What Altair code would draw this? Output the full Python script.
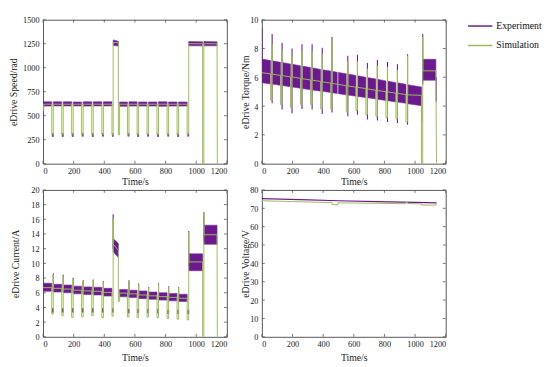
import altair as alt
import pandas as pd

PURPLE = "#6b1a8e"
GREEN = "#9bbb59"
FRAME = "#555555"
FONT = "Liberation Serif"

SERIES = ["Experiment", "Simulation"]

# ---- common timing of the drive cycle (s): steady segments ----
SEG_T0 = [0, 67, 132, 197, 262, 328, 394, 458, 500, 561, 624, 689, 754, 820, 885, 951, 1050]
SEG_T1 = [57, 122, 187, 252, 318, 384, 450, 492, 551, 614, 679, 744, 810, 875, 941, 1042, 1136]

X_TICKS = [0, 200, 400, 600, 800, 1000, 1200]

# ---- Speed (rad) ----
SPD_S0 = [620, 620, 620, 620, 620, 620, 620, 1262, 620, 620, 620, 620, 620, 620, 620, 1250, 1250]
SPD_S1 = [620, 620, 620, 620, 620, 620, 620, 1262, 620, 620, 620, 620, 620, 620, 620, 1250, 1250]
SPD_GLO = [300, 300, 300, 300, 300, 300, 300, 300, 300, 300, 300, 300, 300, 300, 300, 0]
SPD_GHI = [620, 620, 620, 620, 620, 620, 1262, 620, 620, 620, 620, 620, 620, 620, 1250, 1250]
SPD_HEAD_T = [0, 6]
SPD_HEAD_V = [545, 620]
SPD_TAIL_T = [1138]
SPD_TAIL_V = [0]
SPD_LO0 = [600, 602, 602, 602, 600, 602, 602, 1232, 598, 600, 600, 600, 598, 600, 600, 1228, 1228]
SPD_HI0 = [645, 645, 645, 643, 645, 645, 645, 1290, 643, 645, 643, 643, 645, 643, 643, 1272, 1272]
SPD_LO1 = [600, 602, 602, 602, 600, 602, 602, 1225, 598, 600, 600, 600, 598, 600, 600, 1228, 1228]
SPD_HI1 = [645, 645, 645, 643, 645, 645, 645, 1275, 643, 645, 643, 643, 645, 643, 643, 1270, 1270]
SPD_BAND_HEAD_T = [0, 6]
SPD_BAND_HEAD_LO = [500, 600]
SPD_BAND_HEAD_HI = [565, 645]
SPD_BLOB_LO = [280, 280, 280, 282, 280, 282, 280, None, 282, 280, 282, 280, 282, 280, 282, None]
SPD_BLOB_HI = [318, 318, 316, 318, 318, 316, 318, None, 316, 318, 316, 318, 316, 318, 318, None]
SPD_TICKS = [0, 250, 500, 750, 1000, 1250, 1500]

# ---- Torque (Nm) ----
TRQ_S0 = [6.32, 6.22, 6.12, 6.02, 5.90, 5.80, 5.68, 5.57, 5.50, 5.40, 5.30, 5.19, 5.08, 4.98, 4.88, 4.78, 6.45]
TRQ_S1 = [6.24, 6.13, 6.03, 5.93, 5.82, 5.71, 5.60, 5.52, 5.42, 5.32, 5.22, 5.10, 5.00, 4.90, 4.80, 4.75, 6.45]
TRQ_GLO = [4.4, 4.1, 3.9, 4.1, 4.1, 3.8, 3.8, 5.52, 3.6, 3.7, 3.4, 3.3, 3.2, 3.1, 2.9, 0.0]
TRQ_GHI = [8.3, 7.9, 7.5, 7.8, 7.8, 7.6, 8.7, 5.50, 7.1, 7.1, 6.6, 6.8, 6.7, 6.5, 7.5, 8.8]
TRQ_TAIL_T = [1140]
TRQ_TAIL_V = [0]
TRQ_LO0 = [5.63, 5.53, 5.43, 5.33, 5.22, 5.12, 5.03, 4.93, 4.86, 4.77, 4.67, 4.58, 4.48, 4.38, 4.28, 4.17, 5.80]
TRQ_HI0 = [7.27, 7.15, 7.03, 6.91, 6.78, 6.66, 6.53, 6.42, 6.34, 6.23, 6.11, 5.98, 5.86, 5.74, 5.62, 5.49, 7.25]
TRQ_LO1 = [5.54, 5.44, 5.34, 5.24, 5.14, 5.04, 4.94, 4.87, 4.78, 4.69, 4.59, 4.50, 4.39, 4.29, 4.19, 4.03, 5.80]
TRQ_HI1 = [7.16, 7.04, 6.92, 6.80, 6.68, 6.55, 6.43, 6.35, 6.24, 6.13, 6.00, 5.88, 5.75, 5.63, 5.51, 5.33, 7.25]
TRQ_SPK_T = [1, 67, 132, 197, 262, 328, 394, 458, 561, 624, 689, 754, 820, 885, 951, 1044, 1050, 1138]
TRQ_SPK_LO = [7.0, 4.2, 3.77, 3.5, 3.8, 3.77, 3.45, 3.55, 3.3, 3.4, 3.07, 3.0, 2.9, 2.83, 2.7, 2.9, 5.5, 4.3]
TRQ_SPK_HI = [9.4, 9.0, 8.4, 8.0, 8.3, 8.3, 8.05, 8.8, 7.5, 7.57, 7.0, 7.2, 7.06, 6.9, 7.6, 4.7, 9.0, 6.0]
TRQ_TICKS = [0, 2, 4, 6, 8, 10]

# ---- Current (A) ----
CUR_S0 = [6.70, 6.60, 6.50, 6.35, 6.25, 6.20, 6.05, 12.6, 5.95, 5.85, 5.70, 5.58, 5.47, 5.37, 5.25, 10.2, 13.9]
CUR_S1 = [6.70, 6.60, 6.50, 6.35, 6.25, 6.20, 6.05, 11.8, 5.95, 5.85, 5.70, 5.58, 5.47, 5.37, 5.25, 10.2, 13.9]
CUR_GLO = [3.1, 2.9, 2.6, 2.7, 2.9, 2.6, 2.8, 4.8, 2.7, 2.6, 2.7, 2.6, 2.5, 2.4, 2.3, 0.0]
CUR_GHI = [8.5, 8.3, 7.9, 7.6, 7.7, 7.45, 16.2, 5.95, 7.6, 7.15, 6.7, 7.25, 6.8, 6.7, 14.3, 16.85]
CUR_TAIL_T = [1138]
CUR_TAIL_V = [0]
CUR_LO0 = [6.20, 6.10, 6.00, 5.85, 5.75, 5.70, 5.55, 11.6, 5.45, 5.35, 5.20, 5.10, 5.00, 4.90, 4.80, 9.0, 12.6]
CUR_HI0 = [7.30, 7.15, 7.05, 6.90, 6.80, 6.75, 6.60, 13.4, 6.45, 6.35, 6.25, 6.10, 6.00, 5.90, 5.80, 11.3, 15.2]
CUR_LO1 = [6.20, 6.10, 6.00, 5.85, 5.75, 5.70, 5.55, 10.8, 5.45, 5.35, 5.20, 5.10, 5.00, 4.90, 4.80, 9.0, 12.6]
CUR_HI1 = [7.30, 7.15, 7.05, 6.90, 6.80, 6.75, 6.60, 12.7, 6.45, 6.35, 6.25, 6.10, 6.00, 5.90, 5.80, 11.3, 15.2]
CUR_BLOB_LO = [3.3, 3.3, 3.3, 3.3, 3.3, 3.3, 3.3, None, 3.2, 3.2, 3.2, 3.2, 3.1, 3.1, 3.1, None]
CUR_BLOB_HI = [3.9, 3.9, 3.9, 3.9, 3.9, 3.9, 3.9, None, 3.8, 3.8, 3.8, 3.8, 3.7, 3.7, 3.7, None]
CUR_SPK_T = [67, 132, 197, 262, 328, 394, 458, 561, 624, 689, 754, 820, 885, 951, 1050]
CUR_SPK_LO = [6.2, 6.1, 6.0, 5.9, 5.8, 5.7, 12.0, 5.4, 5.3, 5.2, 5.1, 5.0, 4.9, 9.5, 13.0]
CUR_SPK_HI = [8.65, 8.44, 8.05, 7.7, 7.8, 7.57, 16.7, 7.7, 7.26, 6.8, 7.35, 6.9, 6.8, 14.4, 16.96]
CUR_TICKS = [0, 2, 4, 6, 8, 10, 12, 14, 16, 18, 20]

# ---- Voltage (V) ----
VOLT_EXP_T = [0, 250, 500, 750, 1000, 1140]
VOLT_EXP_V = [75.3, 74.7, 74.1, 73.6, 73.2, 73.0]
VOLT_SIM_T = [0, 458, 458, 496, 496, 940, 940, 951, 951, 1042, 1042, 1136, 1140]
VOLT_SIM_V = [74.1, 73.1, 72.0, 71.9, 73.0, 72.5, 73.5, 73.4, 72.6, 72.4, 71.8, 71.7, 72.9]
VOLT_TICKS = [0, 10, 20, 30, 40, 50, 60, 70, 80]

W = 189
H_TOP = 148
H_BOT = 151

LEGEND = alt.Legend(
    title=None, orient="none", legendX=436, legendY=-7, padding=0, symbolType="stroke",
    symbolSize=625, symbolStrokeWidth=1.5, labelFont=FONT, labelFontSize=10,
    labelColor="#111", rowPadding=1, labelOffset=3,
)
COLOR = alt.Color("series:N", scale=alt.Scale(domain=SERIES, range=[PURPLE, GREEN]), legend=LEGEND)
XS = alt.Scale(domain=[0, 1200], nice=False, zero=False)


def sim_frame(s0, s1, glo, ghi, head_t=None, head_v=None, tail_t=None, tail_v=None):
    ts, vs = [], []
    n = len(SEG_T0)
    for i in range(n):
        if i == 0:
            if head_t:
                ts += head_t
                vs += head_v
            else:
                ts.append(SEG_T0[0]); vs.append(s0[0])
        ts.append(SEG_T1[i]); vs.append(s1[i])
        if i < n - 1:
            ts += [SEG_T1[i], SEG_T0[i + 1], SEG_T0[i + 1], SEG_T0[i + 1] + 1]
            vs += [glo[i], glo[i], ghi[i], s0[i + 1]]
    if tail_t:
        ts += tail_t
        vs += tail_v
    return pd.DataFrame({"t": ts, "v": vs, "series": "Simulation", "o": list(range(len(ts)))})


def band_frame(lo0, hi0, lo1, hi1, head_t=None, head_lo=None, head_hi=None):
    rows = []
    if head_t:
        for t, a, b in zip(head_t, head_lo, head_hi):
            rows.append(dict(seg=-1, t=t, lo=a, hi=b))
    for i in range(len(SEG_T0)):
        rows.append(dict(seg=i, t=SEG_T0[i], lo=lo0[i], hi=hi0[i]))
        rows.append(dict(seg=i, t=SEG_T1[i], lo=lo1[i], hi=hi1[i]))
    return pd.DataFrame(rows)


def blob_frame(lo, hi):
    rows = []
    for i in range(len(SEG_T0) - 1):
        if lo[i] is None:
            continue
        rows.append(dict(t0=SEG_T1[i] + 1, t1=SEG_T0[i + 1] + 3, lo=lo[i], hi=hi[i]))
    return pd.DataFrame(rows)


def panel(ytitle, ydom, yticks, height, title_x, x_title_pad, layers_fn):
    xa = alt.Axis(values=X_TICKS, title="Time/s", titlePadding=x_title_pad, format="d",
                  labelFont=FONT, titleFont=FONT)
    ya = alt.Axis(values=yticks, title=ytitle, titleX=title_x, titleBaseline="middle", format="d",
                  labelFont=FONT, titleFont=FONT)

    def xenc(field):
        return alt.X(f"{field}:Q", scale=XS, axis=xa)

    def yenc(field):
        return alt.Y(f"{field}:Q", scale=alt.Scale(domain=ydom, nice=False, zero=False), axis=ya)

    layers = layers_fn(xenc, yenc)
    tick_x = pd.DataFrame({"t": X_TICKS})
    tick_y = pd.DataFrame({"v": yticks})
    tk = dict(color=FRAME, strokeWidth=0.8)
    bot = alt.Chart(tick_x).mark_rule(**tk).encode(
        x=xenc("t"), y=alt.value(height), y2=alt.value(height - 3))
    top = alt.Chart(tick_x).mark_rule(**tk).encode(
        x=xenc("t"), y=alt.value(0), y2=alt.value(3))
    left = alt.Chart(tick_y).mark_rule(**tk).encode(
        y=yenc("v"), x=alt.value(0), x2=alt.value(3))
    right = alt.Chart(tick_y).mark_rule(**tk).encode(
        y=yenc("v"), x=alt.value(W), x2=alt.value(W - 3))
    return alt.layer(*layers, bot, top, left, right).properties(width=W, height=height)


def noisy_layers(band, blobs, spikes, sim):
    def fn(xenc, yenc):
        out = [
            alt.Chart(band).mark_area(color=PURPLE, opacity=1, clip=True,
                                      stroke="#7d2a9e", strokeWidth=0.6).encode(
                x=xenc("t"), y=yenc("lo"), y2="hi", detail="seg:N"),
        ]
        if blobs is not None:
            out.append(alt.Chart(blobs).mark_rect(color=PURPLE, clip=True).encode(
                x=xenc("t0"), x2="t1", y=yenc("lo"), y2="hi"))
        if spikes is not None:
            out.append(alt.Chart(spikes).mark_rule(color=PURPLE, strokeWidth=1.1, clip=True).encode(
                x=xenc("t"), y=yenc("lo"), y2="hi"))
        out.append(alt.Chart(sim).mark_line(strokeWidth=1, clip=True).encode(
            x=xenc("t"), y=yenc("v"), order="o:Q", color=COLOR))
        return out
    return fn


# Speed panel
spd_sim = sim_frame(SPD_S0, SPD_S1, SPD_GLO, SPD_GHI, SPD_HEAD_T, SPD_HEAD_V, SPD_TAIL_T, SPD_TAIL_V)
spd_band = band_frame(SPD_LO0, SPD_HI0, SPD_LO1, SPD_HI1, SPD_BAND_HEAD_T, SPD_BAND_HEAD_LO, SPD_BAND_HEAD_HI)
spd_blob = blob_frame(SPD_BLOB_LO, SPD_BLOB_HI)
p1 = panel("eDrive Speed/rad", [0, 1500], SPD_TICKS, H_TOP, -30, 2,
           noisy_layers(spd_band, spd_blob, None, spd_sim))

# Torque panel
trq_sim = sim_frame(TRQ_S0, TRQ_S1, TRQ_GLO, TRQ_GHI, None, None, TRQ_TAIL_T, TRQ_TAIL_V)
trq_band = band_frame(TRQ_LO0, TRQ_HI0, TRQ_LO1, TRQ_HI1)
trq_spk = pd.DataFrame({"t": TRQ_SPK_T, "lo": TRQ_SPK_LO, "hi": TRQ_SPK_HI})
p2 = panel("eDrive Torque/Nm", [0, 10], TRQ_TICKS, H_TOP, -17, 2,
           noisy_layers(trq_band, None, trq_spk, trq_sim))

# Current panel
cur_sim = sim_frame(CUR_S0, CUR_S1, CUR_GLO, CUR_GHI, None, None, CUR_TAIL_T, CUR_TAIL_V)
cur_band = band_frame(CUR_LO0, CUR_HI0, CUR_LO1, CUR_HI1)
cur_blob = blob_frame(CUR_BLOB_LO, CUR_BLOB_HI)
cur_spk = pd.DataFrame({"t": CUR_SPK_T, "lo": CUR_SPK_LO, "hi": CUR_SPK_HI})
p3 = panel("eDrive Current/A", [0, 20], CUR_TICKS, H_BOT, -28, 5,
           noisy_layers(cur_band, cur_blob, cur_spk, cur_sim))


# Voltage panel
def volt_layers(xenc, yenc):
    exp = pd.DataFrame({"t": VOLT_EXP_T, "v": VOLT_EXP_V, "series": "Experiment",
                        "o": list(range(len(VOLT_EXP_T)))})
    sim = pd.DataFrame({"t": VOLT_SIM_T, "v": VOLT_SIM_V, "series": "Simulation",
                        "o": list(range(len(VOLT_SIM_T)))})
    return [
        alt.Chart(exp).mark_line(strokeWidth=1.2, clip=True).encode(
            x=xenc("t"), y=yenc("v"), order="o:Q", color=COLOR),
        alt.Chart(sim).mark_line(strokeWidth=1, clip=True).encode(
            x=xenc("t"), y=yenc("v"), order="o:Q", color=COLOR),
    ]


p4 = panel("eDrive Voltage/V", [0, 80], VOLT_TICKS, H_BOT, -17, 5, volt_layers)

chart = alt.concat(p1, p2, p3, p4, columns=2, spacing={"row": 27, "column": 36},
                   bounds="flush").properties(
    padding={"left": 0, "top": 0, "right": 0, "bottom": 0}
).configure_view(
    stroke=FRAME, strokeWidth=1
).configure_axis(
    ticks=False, domain=False, grid=False,
    labelFont=FONT, labelFontSize=8.5, labelColor="#222", labelPadding=4,
    titleFont=FONT, titleFontSize=10, titleFontWeight="normal", titleColor="#222",
).configure_axisX(labelPadding=3)

chart.save("out.html", embed_options={"renderer": "svg", "actions": False})
